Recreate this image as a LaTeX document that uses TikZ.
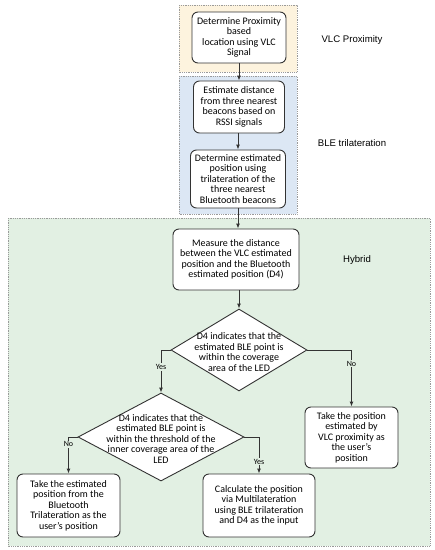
\documentclass[tikz,border=0pt]{standalone}
\usepackage{fontspec}
\setmainfont{Carlito}
\newfontfamily\labfont{Liberation Sans}
\usetikzlibrary{shapes.geometric,arrows.meta}
\definecolor{yel}{HTML}{FDF3DE}
\definecolor{blu}{HTML}{DCE7F4}
\definecolor{grn}{HTML}{E2F0E3}
\definecolor{frm}{HTML}{9A9A9A}
\definecolor{edg}{HTML}{333333}
\begin{document}
\begin{tikzpicture}[x=1pt,y=-1pt,
  region/.style={draw=frm,densely dotted,line width=0.8pt},
  stepbox/.style={draw=edg,fill=white,rounded corners=6pt,line width=0.9pt,align=center,inner sep=1pt,font=\fontsize{10}{10.5}\selectfont},
  decide/.style={draw=edg,fill=white,diamond,line width=0.9pt,inner sep=0pt},
  dtext/.style={align=center,font=\fontsize{10}{10.5}\selectfont},
  arr/.style={draw=edg,line width=0.9pt,-{Latex[length=5pt,width=4pt]}},
  lab/.style={font=\labfont\fontsize{9.6}{11}\selectfont},
  yn/.style={fill=grn,inner sep=1pt,font=\fontsize{8}{9}\selectfont}]
\useasboundingbox (0,0) rectangle (435,550);
% regions
\draw[region,fill=yel] (179,5) rectangle (297,72);
\draw[region,fill=blu] (179,76) rectangle (297,214);
\draw[region,fill=grn] (8,218) rectangle (430,546);
\node[lab] (lv) at (352,40) {VLC Proximity};
\node[lab] (lb) at (352,143) {BLE trilateration};
\node[lab] (lh) at (357,260) {Hybrid};
% boxes
\node[stepbox,minimum width=94pt,minimum height=51pt] (b1) at (239,37.5) {Determine Proximity\\based\\location using VLC\\Signal};
\node[stepbox,minimum width=91pt,minimum height=52pt] (b2) at (239,107) {Estimate distance\\from three nearest\\beacons based on\\RSSI signals};
\node[stepbox,minimum width=95pt,minimum height=58pt] (b3) at (238,179) {Determine estimated\\position using\\trilateration of the\\three nearest\\Bluetooth beacons};
\node[stepbox,minimum width=126pt,minimum height=61pt] (b4) at (236,259.5) {Measure the distance\\between the VLC estimated\\position and the Bluetooth\\estimated position (D4)};
\node[decide,minimum width=136pt,minimum height=82pt] (d1) at (239,350) {};
\node[dtext] (d1t) at (239,352) {D4 indicates that the\\estimated BLE point is\\within the coverage\\area of the LED};
\node[decide,minimum width=166pt,minimum height=88pt] (d2) at (161,437) {};
\node[dtext] (d2t) at (161,439) {D4 indicates that the\\estimated BLE point is\\within the threshold of the\\inner coverage area of the\\LED};
\node[stepbox,minimum width=93pt,minimum height=61pt] (b5) at (351.5,437.5) {Take the position\\estimated by\\VLC proximity as\\the user’s\\position};
\node[stepbox,minimum width=103pt,minimum height=63pt] (b6) at (68.5,505.5) {Take the estimated\\position from the\\Bluetooth\\Trilateration as the\\user’s position};
\node[stepbox,minimum width=112pt,minimum height=63pt] (b7) at (259,505.5) {Calculate the position\\via Multilateration\\using BLE trilateration\\and D4 as the input};
% connectors
\draw[arr] (b1.south) -- (b1.south |- b2.north);
\draw[arr] (b2.south -| b3.north) -- (b3.north);
\draw[arr] (b3.south) -- (b3.south |- b4.north);
\draw[arr] (d1.north |- b4.south) -- (d1.north);
\draw[arr] (d1.west) -| node[yn,pos=0.7] {Yes} (d2.north);
\draw[arr] (d1.east) -| node[yn,pos=0.62] {No} (b5.north);
\draw[arr] (d2.west) -| node[yn,pos=0.6] {No} (b6.north);
\draw[arr] (d2.east) -| node[yn,pos=0.84] {Yes} (b7.north);
\end{tikzpicture}
\end{document}
